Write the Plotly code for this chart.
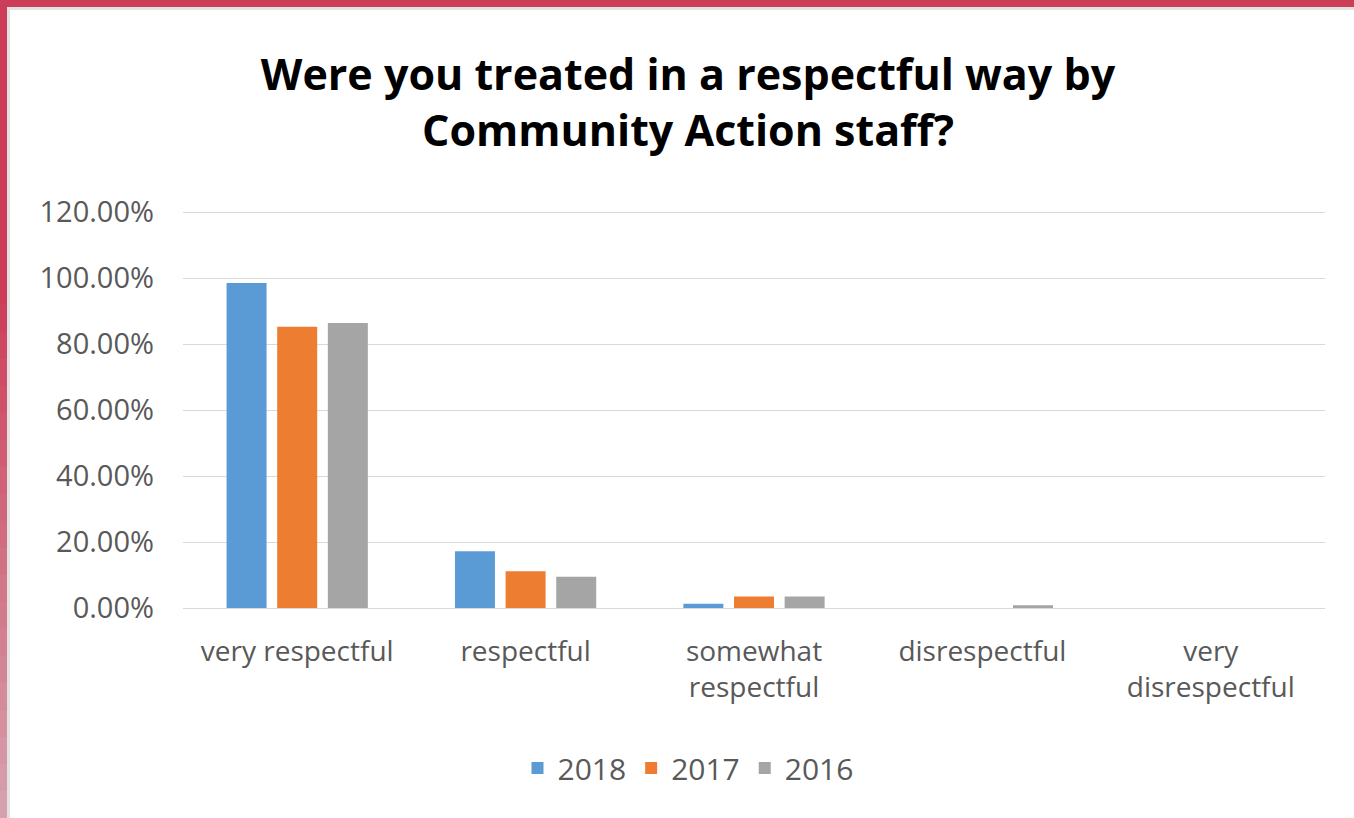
import plotly.graph_objects as go

categories = ["very respectful", "respectful", "somewhat<br>respectful",
              "disrespectful", "very<br>disrespectful"]
years = ["2018", "2017", "2016"]
values_2018 = [0.985, 0.172, 0.013, 0.0, 0.0]
values_2017 = [0.852, 0.111, 0.035, 0.0, 0.0]
values_2016 = [0.864, 0.095, 0.035, 0.008, 0.0]
colors = ["#5b9bd5", "#ed7d31", "#a5a5a5"]
y_ticks = [0, 0.2, 0.4, 0.6, 0.8, 1.0, 1.2]
y_max = 1.2

W, H = 1354, 818
L, R, T, B = 183, 29, 212, 210
PW, PH = W - L - R, H - T - B


def px_x(x):
    return (x - L) / PW


def px_y(y):
    return (H - B - y) / PH


fig = go.Figure()
for name, vals, col in zip(years, [values_2018, values_2017, values_2016], colors):
    fig.add_trace(go.Bar(x=categories, y=vals, name=name,
                         marker=dict(color=col, line=dict(width=0))))

shapes = []
# top gridline sits on the edge of the plot area, so draw it explicitly
shapes.append(dict(type="line", xref="paper", yref="paper", layer="below",
                   x0=0, x1=1, y0=px_y(T + 0.5), y1=px_y(T + 0.5),
                   line=dict(color="#d9d9d9", width=1)))

# frame: red band along top and left with a light grey inner edge
shapes.append(dict(type="rect", xref="paper", yref="paper", layer="above",
                   x0=px_x(0), x1=px_x(W), y0=px_y(0), y1=px_y(7),
                   fillcolor="#cc3d58", line=dict(width=0)))
shapes.append(dict(type="rect", xref="paper", yref="paper", layer="above",
                   x0=px_x(7), x1=px_x(W), y0=px_y(7), y1=px_y(10),
                   fillcolor="#e2e2e2", line=dict(width=0)))
n = 30
top_c = (204, 61, 88)
bot_c = (214, 160, 173)
for i in range(n):
    y0 = 7 + i * (H - 7) / n
    y1 = 7 + (i + 1) * (H - 7) / n
    t = max(0.0, (i / (n - 1) - 0.35) / 0.65)
    c = tuple(int(round(a + (b - a) * t)) for a, b in zip(top_c, bot_c))
    shapes.append(dict(type="rect", xref="paper", yref="paper", layer="above",
                       x0=px_x(0), x1=px_x(7), y0=px_y(y0), y1=px_y(y1 + 1),
                       fillcolor="rgb(%d,%d,%d)" % c, line=dict(width=0)))
shapes.append(dict(type="rect", xref="paper", yref="paper", layer="above",
                   x0=px_x(7), x1=px_x(10), y0=px_y(10), y1=px_y(H),
                   fillcolor="#e2e2e2", line=dict(width=0)))

fig.update_layout(
    width=W, height=H,
    margin=dict(l=L, r=R, t=T, b=B),
    paper_bgcolor="white", plot_bgcolor="white",
    font=dict(family="Open Sans, DejaVu Sans, sans-serif", color="#595959"),
    title=dict(text="<b>Were you treated in a respectful way by<br>Community Action staff?</b>",
               x=688 / W, xanchor="center", y=1 - 90 / H, yanchor="middle",
               font=dict(size=43, color="#000000",
                         family="Open Sans, DejaVu Sans, sans-serif")),
    barmode="group", bargap=0.335, bargroupgap=0.21,
    showlegend=True,
    legend=dict(orientation="h", x=px_x(688), xanchor="center",
                y=px_y(768), yanchor="middle",
                font=dict(size=30, color="#595959"),
                itemwidth=30, traceorder="normal"),
    shapes=shapes,
)
fig.update_xaxes(showgrid=False, showline=True, linecolor="#d9d9d9", linewidth=1,
                 tickfont=dict(size=28, color="#595959"), ticks="",
                 ticklabelstandoff=18)
fig.update_yaxes(range=[0, y_max], tickvals=y_ticks, tickformat=".2%",
                 showgrid=True, gridcolor="#d9d9d9", gridwidth=1,
                 zeroline=False, showline=False, ticks="",
                 tickfont=dict(size=29, color="#595959"),
                 ticklabelstandoff=28)

fig.write_html("out.html")
